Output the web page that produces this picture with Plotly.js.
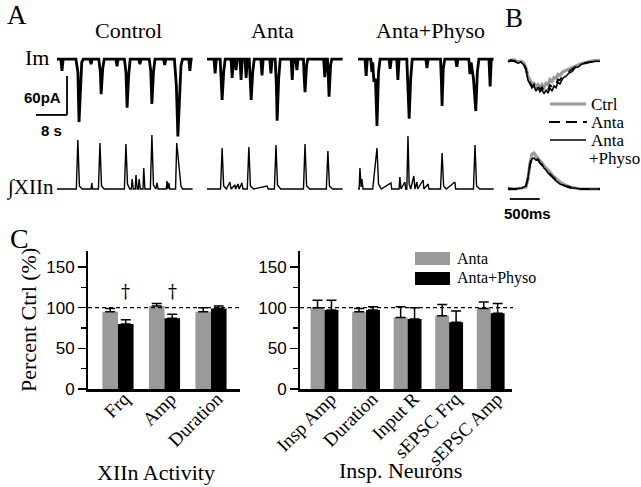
<!DOCTYPE html>
<html lang="en">
<head>
<meta charset="UTF-8">
<title>Anta / Physo effects on XIIn and inspiratory neurons</title>
<script src="https://cdn.plot.ly/plotly-3.0.1.min.js"></script>
<style>
    body { margin: 0; background: white; }
    #plot { width: 641px; height: 487px; }
</style>
</head>
<body>
<div id="plot"></div>
<script>
// ---- A: raw traces, [time (s), value] ----
// Im in pA, integrated XIIn in arbitrary units
const ctrlIm = [[0,0],[1.0,0],[1.3,-18],[1.6,0],[4.9,0],[5.4,-20],[5.7,-97],[6.1,-40],[6.4,-5],[6.8,0],
    [8.5,0],[8.8,-8],[9.1,0],[10.8,0],[11.2,-20],[11.4,-54],[11.8,-15],[12.2,0],[15.2,0],[15.5,-11],[15.8,0],
    [17.4,0],[17.8,-20],[18.1,-75],[18.5,-25],[18.9,0],[21.1,0],[21.4,-8],[21.7,0],[23.8,0],[24.2,-18],
    [24.5,-69],[24.9,-20],[25.3,0],[27.5,0],[27.8,-9],[28.1,0],[30.3,0],[30.8,-40],[31.2,-119],[31.6,-50],
    [32.0,-10],[32.4,0],[34.0,0],[34.3,-18],[34.6,0],[35,0]];
const antaIm = [[0,0],[1.8,0],[2.1,-22],[2.4,0],[3.4,0],[3.7,-30],[3.9,-63],[4.3,-20],[4.7,0],[6.2,0],[6.5,-29],
    [6.8,0],[7.2,0],[7.5,-17],[7.8,0],[8.5,0],[8.8,-32],[9.1,0],[9.8,0],[10.1,-29],[10.4,0],[10.9,0],[11.2,-30],
    [11.4,-63],[11.8,-20],[12.2,0],[13.9,0],[14.2,-25],[14.5,0],[16.2,0],[16.5,-22],[16.8,0],[17.6,0],[17.9,-40],
    [18.1,-95],[18.5,-30],[18.9,0],[21.7,0],[22.0,-32],[22.3,0],[22.9,0],[23.2,-17],[23.5,0],[24.9,0],[25.1,-30],
    [25.3,-51],[25.7,-10],[26.0,0],[30.1,0],[30.4,-28],[30.7,0],[31.1,0],[31.3,-25],[31.5,-58],[31.9,-10],[32.2,0],[35,0]];
const physoIm = [[0,0],[1.8,0],[2.1,-26],[2.4,0],[3.3,0],[3.6,-20],[3.8,-5],[4.1,-35],[4.5,-30],[4.9,-103],
    [5.3,-20],[5.7,0],[8.0,0],[8.3,-15],[8.6,0],[10.0,0],[10.3,-32],[10.6,0],[12.6,0],[12.9,-40],[13.2,-92],
    [13.6,-30],[14.0,0],[17.5,0],[17.8,-14],[18.1,0],[21.3,0],[21.5,-30],[21.7,-72],[22.0,-15],[22.4,0],[25.2,0],
    [25.5,-12],[25.8,0],[28.6,0],[28.9,-23],[29.2,-5],[29.8,-30],[30.4,-80],[30.8,-20],[31.2,0],[33.8,0],
    [34.1,-42],[34.4,0],[35,0]];
const ctrlXII = [[0,0],[5.0,0],[5.4,49],[5.8,3],[6.5,0],[8.8,0],[9.0,6],[9.2,0],[10.7,0],[11.1,46],[11.5,3],
    [12.2,0],[17.4,0],[17.8,45],[18.2,5],[18.8,0],[19.2,0],[19.4,10],[19.7,0],[20.2,0],[20.4,14],[20.7,0],[21.0,0],
    [21.2,10],[21.5,0],[22.2,0],[22.4,21],[22.7,0],[24.1,0],[24.5,54],[24.9,4],[25.5,0],[25.8,6],[26.1,0],[28.2,0],
    [28.4,8],[28.6,0],[28.9,6],[29.1,0],[30.6,0],[30.9,46],[31.2,35],[31.6,20],[32.0,3],[32.4,0],[35,0]];
const antaXII = [[0,0],[3.5,0],[3.9,41],[4.3,3],[5.0,0],[5.9,7],[6.2,0],[7.2,4],[7.4,0],[8.0,5],[8.3,0],[9.0,6],
    [9.3,0],[10.4,0],[10.8,42],[11.2,3],[12.0,0],[15.5,3],[15.8,0],[17.4,0],[17.8,44],[18.2,4],[19.0,0],[24.9,0],
    [25.3,45],[25.7,3],[26.5,0],[30.8,0],[31.2,38],[31.6,3],[32.4,0],[35,0]];
const physoXII = [[0,0],[0.3,0],[0.5,21],[0.8,2],[1.0,10],[1.3,0],[3.8,0],[4.1,11],[4.5,20],[4.9,41],[5.3,5],
    [6.0,0],[8.5,6],[8.7,0],[10.6,0],[10.8,12],[11.1,0],[12.1,7],[12.3,0],[12.6,0],[12.9,53],[13.2,5],[13.6,0],
    [14.4,13],[14.7,0],[15.2,7],[15.4,0],[16.8,9],[17.0,0],[18.1,5],[18.3,0],[21.3,0],[21.7,36],[22.1,3],[22.8,0],
    [25.0,7],[25.2,0],[29.8,0],[30.2,44],[30.6,3],[31.4,0],[35,0]];

// ---- B: averaged cycles, time in ms ----
const bTime = [0,50,100,167,217,267,300,334,367,401,434,468,501,534,568,601,635,668,701,735,768,802,835,868,
    918,969,1019,1069,1119,1169,1236,1303,1369,1453,1536];
const bImCtrl = [-1,0,0,-3,-2,-5,-12,-25,-33,-38,-36,-42,-38,-43,-38,-42,-36,-38,-30,-33,-27,-28,-22,-24,
    -18,-16,-13,-12,-9,-8,-5,-4,-2,-1,-1];
const bImAnta = [-2,-1,-1,-4,-3,-7,-14,-28,-35,-41,-38,-45,-40,-46,-42,-48,-43,-47,-38,-42,-35,-37,-30,-31,
    -24,-21,-17,-15,-11,-10,-6,-4,-3,-2,-2];
const bImPhyso = [-3,0,-2,-5,-3,-8,-15,-31,-37,-43,-40,-48,-42,-49,-45,-52,-46,-51,-43,-48,-40,-43,-34,-37,
    -28,-25,-20,-18,-12,-11,-6,-5,-3,-2,-2];
const bXTime = [0,117,234,301,334,367,401,434,468,501,534,568,601,635,668,701,752,802,868,952,1035,1119,1202,1369,1536];
const bXCtrl = [0,0,1,2,10,26,35,36,33,31,28,26,23,21,19,17,13,10,7,4,2,1,0,0,0];
const bXAnta = [0,0,1,3,11,25,31,32,30,29,26,24,21,19,17,15,11,9,6,3,2,1,0,0,0];
const bXPhyso = [1,0,1,3,12,24,30,31,29,30,26,25,21,19,16,14,11,8,5,3,1,1,0,0,0];

// ---- C: percent of control ----
const xiiCats = ['Frq', 'Amp', 'Duration'];
const xiiAnta = [95, 102, 95];
const xiiAntaErr = [4, 3, 5];
const xiiPhyso = [80, 87, 99];
const xiiPhysoErr = [5, 5, 3];
const neuCats = ['Insp Amp', 'Duration', 'Input R', 'sEPSC Frq', 'sEPSC Amp'];
const neuAnta = [100, 95, 88, 90, 99];
const neuAntaErr = [9, 4, 13, 14, 8];
const neuPhyso = [97, 97, 86, 82, 93];
const neuPhysoErr = [12, 4, 14, 14, 12];
const daggerCats = [0, 1];   // Frq, Amp

const W = 641, H = 487;
const SERIF = 'Liberation Serif, Times New Roman, serif';
const SANS = 'Liberation Sans, Arial, sans-serif';
const GRAY = '#9a9a9a';

function xd(a, b) { return [a / W, b / W]; }
function yd(top, bottom) { return [1 - bottom / H, 1 - top / H]; }
const idx = arr => arr.map((_, i) => i);

function trace(pts, xa, ya, line) {
    return {
        x: pts.map(p => p[0]), y: pts.map(p => p[1]),
        xaxis: xa, yaxis: ya, type: 'scatter', mode: 'lines',
        line: line, showlegend: false, hoverinfo: 'skip'
    };
}

const imLine = {color: '#000', width: 2.8};
const xLine = {color: '#000', width: 1.4};

const data = [
    trace(ctrlIm, 'x', 'y', imLine),
    trace(antaIm, 'x2', 'y', imLine),
    trace(physoIm, 'x3', 'y', imLine),
    trace(ctrlXII, 'x', 'y2', xLine),
    trace(antaXII, 'x2', 'y2', xLine),
    trace(physoXII, 'x3', 'y2', xLine)
];

// B averages
const bSeries = [
    [bImCtrl, bXCtrl, {color: GRAY, width: 3.2}],
    [bImAnta, bXAnta, {color: '#000', width: 1.8, dash: 'dash'}],
    [bImPhyso, bXPhyso, {color: '#000', width: 1.6}]
];
bSeries.forEach(s => {
    data.push(trace(bTime.map((t, i) => [t, s[0][i]]), 'x4', 'y3', s[2]));
    data.push(trace(bXTime.map((t, i) => [t, s[1][i]]), 'x4', 'y4', s[2]));
});

// C bars (category index positions; labels come from the overlay axes)
function bars(cats, vals, err, color, name, xa, ya) {
    return {
        type: 'bar', x: idx(cats), y: vals, name: name, xaxis: xa, yaxis: ya,
        marker: {color: color, line: {width: 0}}, showlegend: false,
        error_y: {type: 'data', symmetric: false, array: err, arrayminus: err.map(() => 0),
            color: '#000', thickness: 1.5, width: 5}
    };
}
data.push(bars(xiiCats, xiiAnta, xiiAntaErr, GRAY, 'Anta', 'x5', 'y5'));
data.push(bars(xiiCats, xiiPhyso, xiiPhysoErr, '#000', 'Anta+Physo', 'x5', 'y5'));
data.push(bars(neuCats, neuAnta, neuAntaErr, GRAY, 'Anta', 'x6', 'y6'));
data.push(bars(neuCats, neuPhyso, neuPhysoErr, '#000', 'Anta+Physo', 'x6', 'y6'));
// invisible carriers so the label axes get drawn
[[xiiCats, xiiAnta, 'x7', 'y5'], [neuCats, neuAnta, 'x8', 'y6']].forEach(c => {
    data.push({type: 'scatter', mode: 'markers', x: idx(c[0]), y: c[1], xaxis: c[2], yaxis: c[3],
        marker: {opacity: 0}, showlegend: false, hoverinfo: 'skip'});
});

const hidden = {visible: false, fixedrange: true};

function txt(s, x, y, size, opts) {
    return Object.assign({
        text: s, xref: 'paper', yref: 'paper', x: x / W, y: 1 - y / H,
        xanchor: 'center', yanchor: 'middle', showarrow: false,
        font: {family: SERIF, size: size, color: '#000'}
    }, opts || {});
}
const bold = s => ({font: {family: SANS, size: s, color: '#000', weight: 'bold'}});

const annotations = [
    txt('A', 17, 15, 27),
    txt('Control', 128, 30, 22),
    txt('Anta', 272, 30, 22),
    txt('Anta+Physo', 430, 30, 22),
    txt('B', 514, 18, 27),
    txt('Im', 37, 58, 22),
    txt('\u222bXIIn', 30, 188, 21),
    txt('60pA', 42, 98, 15, bold(15)),
    txt('8 s', 51, 130, 15, bold(15)),
    txt('500ms', 527, 213, 15, bold(15)),
    txt('C', 19, 238, 28),
    txt('Ctrl', 589, 104, 17, {xanchor: 'left'}),
    txt('Anta', 589, 122, 17, {xanchor: 'left'}),
    txt('Anta', 589, 140, 17, {xanchor: 'left'}),
    txt('+Physo', 587, 158, 17, {xanchor: 'left'}),
    txt('Anta', 455, 258, 16, {xanchor: 'left'}),
    txt('Anta+Physo', 455, 278, 16, {xanchor: 'left'}),
    // panel C group titles
    txt('XIIn Activity', 156, 472, 22),
    txt('Insp. Neurons', 400, 470, 22)
];
daggerCats.forEach(c => {
    annotations.push({
        text: '\u2020', xref: 'x5', yref: 'y5', x: c, y: 104, xshift: 8, yanchor: 'bottom',
        showarrow: false, font: {family: 'DejaVu Serif, serif', size: 18, color: '#000'}
    });
});

const shapes = [
    // A scale bars (60 pA, 8 s)
    {type: 'line', xref: 'x', yref: 'y', x0: 2.6, x1: 2.6, y0: -26, y1: -86, line: {color: '#000', width: 1.8}},
    {type: 'line', xref: 'x', yref: 'y', x0: -5.4, x1: 2.6, y0: -86, y1: -86, line: {color: '#000', width: 1.8}},
    // B scale bar (500 ms)
    {type: 'line', xref: 'x4', yref: 'y4', x0: 30, x1: 530, y0: -10, y1: -10, line: {color: '#000', width: 1.8}},
    // B legend lines
    {type: 'line', xref: 'paper', yref: 'paper', x0: 550 / W, x1: 586 / W, y0: 1 - 104 / H, y1: 1 - 104 / H,
        line: {color: GRAY, width: 3.2}},
    {type: 'line', xref: 'paper', yref: 'paper', x0: 549 / W, x1: 587 / W, y0: 1 - 122 / H, y1: 1 - 122 / H,
        line: {color: '#000', width: 1.8, dash: '11px,6px'}},
    {type: 'line', xref: 'paper', yref: 'paper', x0: 550 / W, x1: 586 / W, y0: 1 - 140 / H, y1: 1 - 140 / H,
        line: {color: '#000', width: 1.6}},
    // C legend boxes
    {type: 'rect', xref: 'paper', yref: 'paper', x0: 415 / W, x1: 450 / W, y0: 1 - 265 / H, y1: 1 - 252 / H,
        fillcolor: GRAY, line: {width: 0}},
    {type: 'rect', xref: 'paper', yref: 'paper', x0: 415 / W, x1: 450 / W, y0: 1 - 285 / H, y1: 1 - 272 / H,
        fillcolor: '#000', line: {width: 0}},
    // 100 % reference lines
    {type: 'line', xref: 'x5 domain', yref: 'y5', x0: 0, x1: 1.012, y0: 100, y1: 100,
        line: {color: '#000', width: 1.4, dash: '4px,3px'}},
    {type: 'line', xref: 'x6 domain', yref: 'y6', x0: 0, x1: 1.005, y0: 100, y1: 100,
        line: {color: '#000', width: 1.4, dash: '4px,3px'}}
];

// bar axes: line only; labels on overlay axes sitting a few px higher
const cX = {
    showline: true, linecolor: '#000', linewidth: 2.5, ticks: '', showticklabels: false,
    showgrid: false, zeroline: false, fixedrange: true
};
const labelPos = 1 - 383 / H;
function labelAxis(base, cats, range) {
    return {
        overlaying: base, anchor: 'free', position: labelPos, range: range,
        tickmode: 'array', tickvals: idx(cats), ticktext: cats,
        showline: false, ticks: '', showgrid: false, zeroline: false, fixedrange: true,
        tickangle: -45, ticklabelshift: 6,
        tickfont: {family: SERIF, size: 19, color: '#000'}
    };
}
const cY = {
    range: [0, 170], showline: true, linecolor: '#000', linewidth: 2,
    tickvals: [0, 50, 100, 150], ticks: 'outside', ticklen: 8, tickwidth: 1.5, tickcolor: '#000',
    minor: {dtick: 25, ticks: 'outside', ticklen: 5, tickwidth: 1.5, tickcolor: '#000'},
    tickfont: {family: SANS, size: 17, color: '#000'},
    showgrid: false, zeroline: false, fixedrange: true, domain: yd(250.7, 389)
};
const xiiRange = [-0.645, 2.624];
const neuRange = [-0.59, 4.513];

const layout = {
    width: W, height: H,
    margin: {l: 0, r: 0, t: 0, b: 0},
    paper_bgcolor: 'white', plot_bgcolor: 'rgba(0,0,0,0)',
    showlegend: false,
    barmode: 'group', bargap: 0.33, bargroupgap: 0,
    xaxis: Object.assign({domain: xd(36, 193), range: [-5.4, 35.1]}, hidden),
    xaxis2: Object.assign({domain: xd(207, 343), range: [0, 35.1]}, hidden),
    xaxis3: Object.assign({domain: xd(358, 494), range: [0, 35.1]}, hidden),
    xaxis4: Object.assign({domain: xd(505, 602), range: [-50, 1570]}, hidden),
    yaxis: Object.assign({domain: yd(50, 137), range: [-120, 14]}, hidden),
    yaxis2: Object.assign({domain: yd(133, 192), range: [-3, 56]}, hidden),
    yaxis3: Object.assign({domain: yd(52, 100), range: [-61.6, 12.3]}, hidden),
    yaxis4: Object.assign({domain: yd(145, 202), range: [-13, 44]}, hidden),
    xaxis5: Object.assign({}, cX, {domain: xd(88, 240), range: xiiRange, anchor: 'y5'}),
    yaxis5: Object.assign({}, cY, {
        anchor: 'x5',
        title: {text: 'Percent Ctrl (%)', font: {family: SERIF, size: 22, color: '#000'}, standoff: 4}
    }),
    xaxis6: Object.assign({}, cX, {domain: xd(300, 512), range: neuRange, anchor: 'y6'}),
    yaxis6: Object.assign({}, cY, {anchor: 'x6'}),
    xaxis7: labelAxis('x5', xiiCats, xiiRange),
    xaxis8: labelAxis('x6', neuCats, neuRange),
    annotations: annotations,
    shapes: shapes
};

Plotly.newPlot('plot', data, layout, {displayModeBar: false, staticPlot: true});
</script>
</body>
</html>
